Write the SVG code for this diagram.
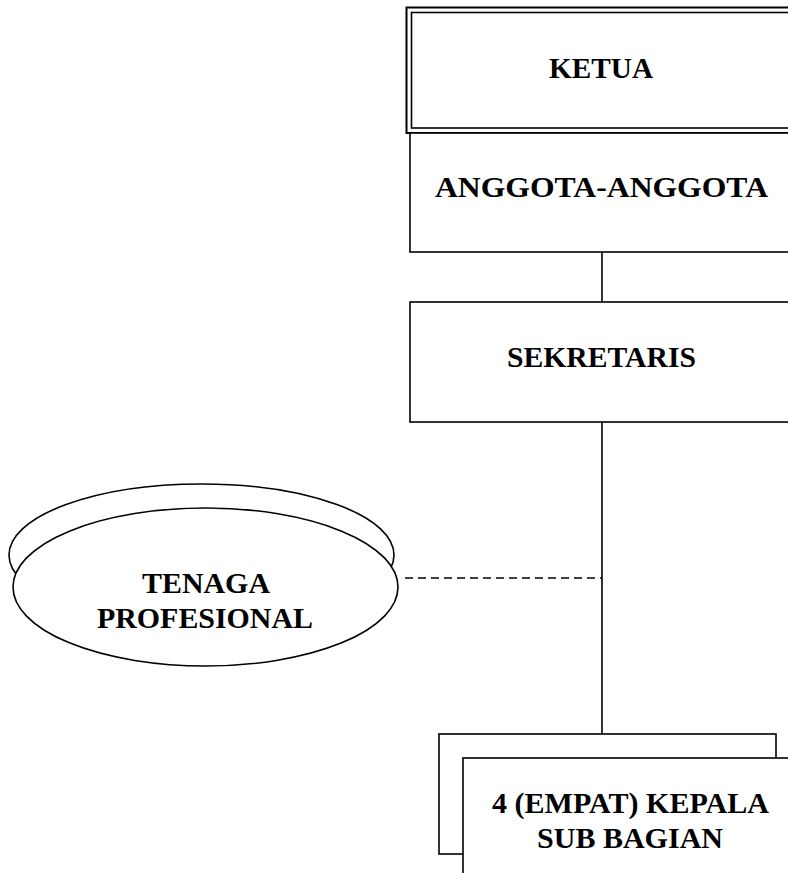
<svg xmlns="http://www.w3.org/2000/svg" width="788" height="873" viewBox="0 0 788 873">
<style>
.box{fill:#fff;stroke:#000;stroke-width:1.6}
.ln{fill:none;stroke:#000;stroke-width:1.6}
.dash{fill:none;stroke:#000;stroke-width:1.6;stroke-dasharray:8 5}
text{font-family:"Liberation Serif","Times New Roman",serif;font-weight:bold;font-size:30px;fill:#000;text-anchor:middle}
</style>
<rect width="788" height="873" fill="#fff"/>
<g id="connectors">
<line class="ln" x1="602" y1="252" x2="602" y2="302"/>
<line class="ln" x1="602" y1="422" x2="602" y2="734"/>
<line class="dash" x1="405" y1="578" x2="602" y2="578"/>
</g>
<g id="ketua">
<rect class="box" x="406.5" y="7.5" width="400" height="125.5" style="stroke-width:2"/>
<rect class="box" x="411.5" y="12.5" width="400" height="115.5"/>
<text x="601" y="78" textLength="104" lengthAdjust="spacingAndGlyphs">KETUA</text>
</g>
<g id="anggota">
<rect class="box" x="410" y="133" width="400" height="119"/>
<text x="601.5" y="197" textLength="333" lengthAdjust="spacingAndGlyphs">ANGGOTA-ANGGOTA</text>
</g>
<g id="sekretaris">
<rect class="box" x="410" y="302" width="400" height="120"/>
<text x="601.5" y="367" textLength="189" lengthAdjust="spacingAndGlyphs">SEKRETARIS</text>
</g>
<g id="tenaga">
<ellipse class="box" cx="201.5" cy="555" rx="192.5" ry="71"/>
<ellipse class="box" cx="205.5" cy="587" rx="192.5" ry="79"/>
<text x="206" y="593" textLength="128" lengthAdjust="spacingAndGlyphs">TENAGA</text>
<text x="205" y="628" textLength="216" lengthAdjust="spacingAndGlyphs">PROFESIONAL</text>
</g>
<g id="kepala">
<rect class="box" x="439" y="734" width="337" height="120"/>
<rect class="box" x="463" y="758" width="400" height="140"/>
<text x="630.5" y="813" textLength="277" lengthAdjust="spacingAndGlyphs">4 (EMPAT) KEPALA</text>
<text x="630" y="848" textLength="186" lengthAdjust="spacingAndGlyphs">SUB BAGIAN</text>
</g>
</svg>
